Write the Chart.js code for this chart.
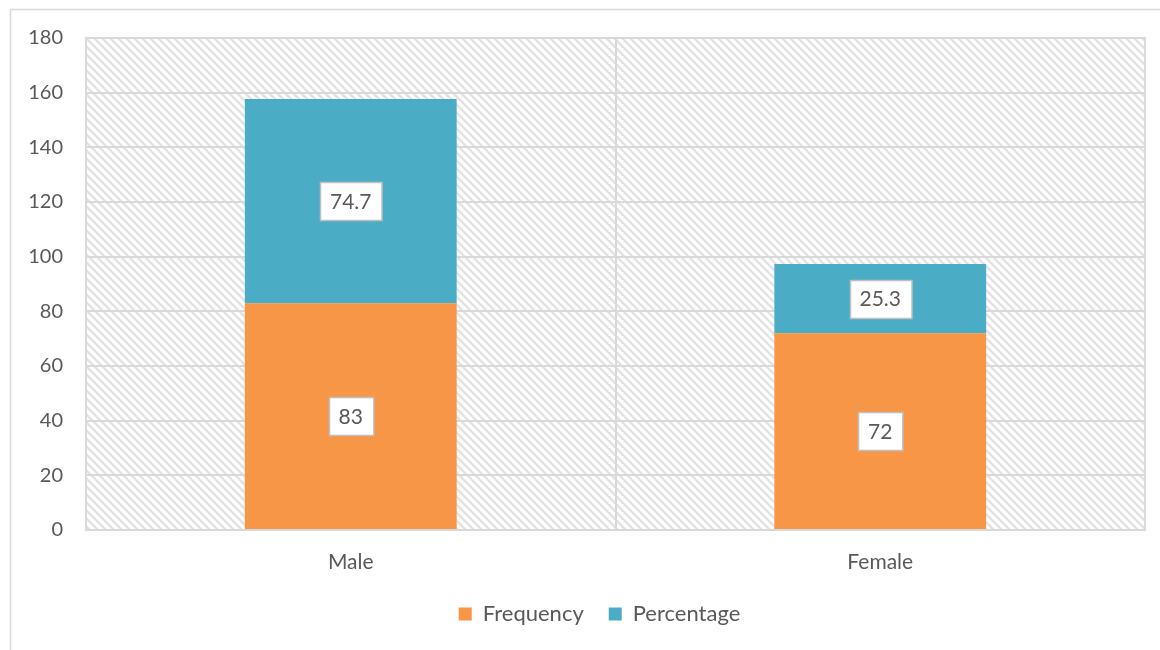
<!DOCTYPE html>
<html>
<head>
<meta charset="utf-8">
<style>
  html, body { margin: 0; padding: 0; background: #ffffff; }
  #wrap { width: 1160px; height: 650px; position: relative; }
</style>
<script src="https://cdn.jsdelivr.net/npm/chart.js@4"></script>
</head>
<body>
<div id="wrap"><canvas id="chart" width="1160" height="650"></canvas></div>
<script>
// Respondents by gender: count and share
const categories = ['Male', 'Female'];
const frequency = [83, 72];
const percentage = [74.7, 25.3];
const yTicks = [0, 20, 40, 60, 80, 100, 120, 140, 160, 180];

const FONT = 'Lato, "Open Sans", "Liberation Sans", sans-serif';
const TEXT = '#595959';
const GRID = '#d9d9d9';

// Diagonal hatch fill for the plot area
function hatchPattern(ctx) {
  const t = document.createElement('canvas');
  t.width = 8; t.height = 8;
  const c = t.getContext('2d');
  c.fillStyle = '#ffffff';
  c.fillRect(0, 0, 8, 8);
  c.strokeStyle = '#e2e2e2';
  c.lineWidth = 2.4;
  c.beginPath();
  c.moveTo(-2, -2); c.lineTo(10, 10);
  c.moveTo(-10, -2); c.lineTo(2, 10);
  c.moveTo(6, -2); c.lineTo(18, 10);
  c.stroke();
  return ctx.createPattern(t, 'repeat');
}

const backdrop = {
  id: 'backdrop',
  afterLayout(chart) {
    // centre the legend row under the plot area
    if (chart.legend) {
      chart.legend.left += 27;
      chart.legend.right += 27;
    }
  },
  beforeDraw(chart) {
    const { ctx, chartArea: a } = chart;
    ctx.save();
    // outer frame
    ctx.strokeStyle = GRID;
    ctx.lineWidth = 1.5;
    ctx.beginPath();
    ctx.moveTo(10.5, 650);
    ctx.lineTo(10.5, 9.5);
    ctx.lineTo(1160, 9.5);
    ctx.stroke();
    // hatched plot area
    ctx.fillStyle = hatchPattern(ctx);
    ctx.fillRect(a.left, a.top, a.right - a.left, a.bottom - a.top);
    ctx.restore();
  },
  afterDatasetsDraw(chart) {
    const { ctx } = chart;
    ctx.save();
    ctx.font = '21px ' + FONT;
    ctx.textAlign = 'center';
    ctx.textBaseline = 'middle';
    chart.data.datasets.forEach((ds, di) => {
      const meta = chart.getDatasetMeta(di);
      meta.data.forEach((bar, i) => {
        const v = ds.data[i];
        const txt = String(v);
        const cy = (bar.y + bar.base) / 2;
        const w = ctx.measureText(txt).width + 20;
        const h = 38;
        const x0 = Math.round(bar.x - w / 2) + 0.5;
        const y0 = Math.round(cy - h / 2) + 0.5;
        ctx.fillStyle = '#ffffff';
        ctx.fillRect(x0, y0, w, h);
        ctx.strokeStyle = '#bfbfbf';
        ctx.lineWidth = 1.5;
        ctx.strokeRect(x0, y0, w, h);
        ctx.fillStyle = TEXT;
        ctx.fillText(txt, bar.x, cy + 1);
      });
    });
    ctx.restore();
  }
};

new Chart(document.getElementById('chart'), {
  type: 'bar',
  data: {
    labels: categories,
    datasets: [
      { label: 'Frequency', data: frequency, backgroundColor: '#f79646' },
      { label: 'Percentage', data: percentage, backgroundColor: '#4bacc6' }
    ]
  },
  options: {
    responsive: false,
    animation: false,
    devicePixelRatio: 1,
    layout: { padding: { top: 38, right: 15, bottom: 15, left: 0 } },
    datasets: { bar: { categoryPercentage: 0.4, barPercentage: 1 } },
    plugins: {
      legend: {
        position: 'bottom',
        labels: {
          font: { family: FONT, size: 22 },
          color: TEXT,
          boxWidth: 13,
          boxHeight: 13,
          padding: 25
        }
      },
      tooltip: { enabled: false }
    },
    scales: {
      x: {
        stacked: true,
        grid: { color: GRID, lineWidth: 2, drawTicks: false, offset: true },
        border: { color: GRID, width: 2 },
        ticks: { font: { family: FONT, size: 21 }, color: TEXT, padding: 20 },
        afterFit(s) { s.height = 48; }
      },
      y: {
        stacked: true,
        min: 0,
        max: 180,
        afterBuildTicks(s) { s.ticks = yTicks.map(v => ({ value: v })); },
        grid: { color: GRID, lineWidth: 2, drawTicks: false },
        border: { color: GRID, width: 2 },
        ticks: { font: { family: FONT, size: 20 }, color: TEXT, padding: 23 },
        afterFit(s) { s.width = 86; }
      }
    }
  },
  plugins: [backdrop, {
    id: 'plotBorder',
    afterDraw(chart) {
      const { ctx, chartArea: a } = chart;
      ctx.save();
      ctx.strokeStyle = GRID;
      ctx.lineWidth = 2;
      ctx.strokeRect(a.left, a.top, a.right - a.left, a.bottom - a.top);
      ctx.restore();
    }
  }]
});
</script>
</body>
</html>
